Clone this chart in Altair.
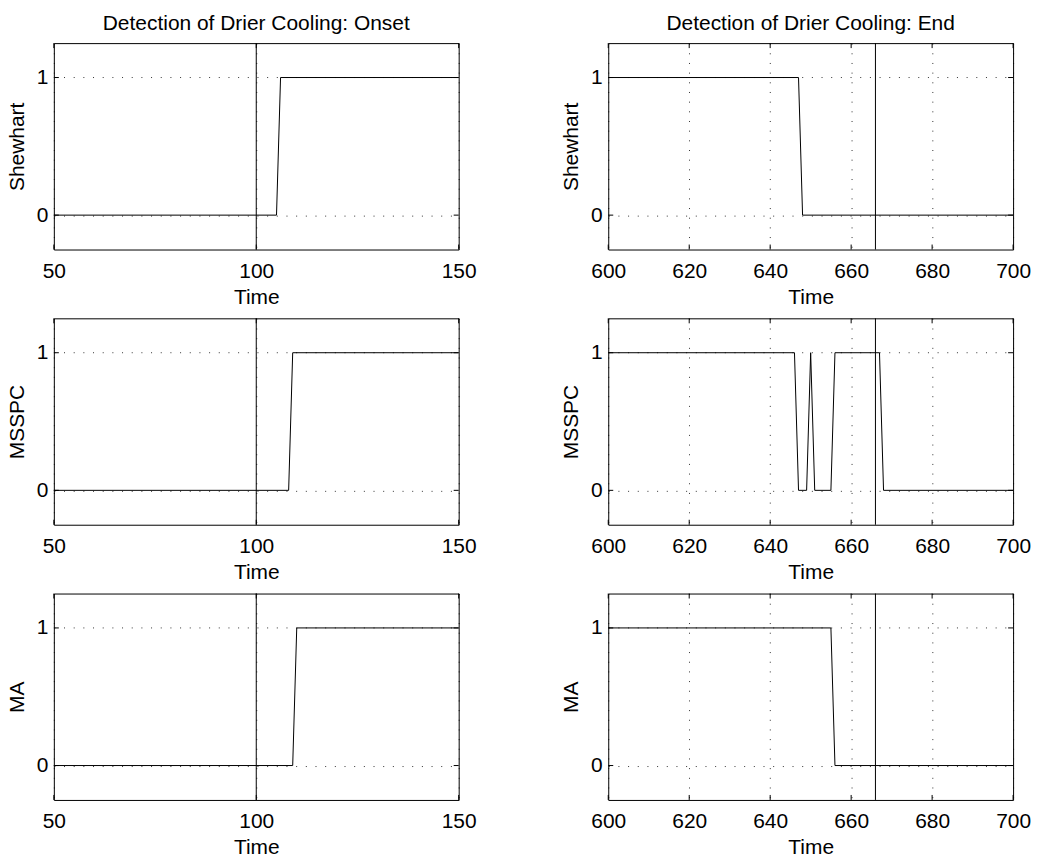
import altair as alt
import pandas as pd

# Axis ticks
onset_ticks = [50, 100, 150]
end_ticks = [600, 620, 640, 660, 680, 700]
level_ticks = [0, 1]

# Reference instants (vertical markers)
onset_marker = 100
end_marker = 666

# Detector outputs (0 = no alarm, 1 = alarm), breakpoints of each signal
shewhart_onset_t = [50, 105, 106, 150]
shewhart_onset_v = [0, 0, 1, 1]
msspc_onset_t = [50, 108, 109, 150]
msspc_onset_v = [0, 0, 1, 1]
ma_onset_t = [50, 109, 110, 150]
ma_onset_v = [0, 0, 1, 1]

shewhart_end_t = [600, 647, 648, 700]
shewhart_end_v = [1, 1, 0, 0]
msspc_end_t = [600, 646, 647, 649, 650, 651, 655, 656, 667, 668, 700]
msspc_end_v = [1, 1, 0, 0, 1, 0, 0, 1, 1, 0, 0]
ma_end_t = [600, 655, 656, 700]
ma_end_v = [1, 1, 0, 0]

FONT = "Liberation Sans"
W, H = 406, 207
TICK = 5


def panel(t, v, domain, ticks, marker, ylabel, title=None):
    data = pd.DataFrame({"t": t, "v": v})
    x = alt.X(
        "t:Q",
        scale=alt.Scale(domain=domain, nice=False, zero=False),
        axis=alt.Axis(values=ticks, title="Time", labelFlush=False, format="d"),
    )
    y = alt.Y(
        "v:Q",
        scale=alt.Scale(domain=[-0.25, 1.25], nice=False, zero=False),
        axis=alt.Axis(values=level_ticks, title=ylabel, format="d"),
    )
    line = alt.Chart(data).mark_line(color="black", strokeWidth=1).encode(x=x, y=y)
    vline = (
        alt.Chart(pd.DataFrame({"t": [marker]}))
        .mark_rule(color="black", strokeWidth=1)
        .encode(x=x)
    )
    xt = pd.DataFrame({"t": ticks})
    yt = pd.DataFrame({"v": level_ticks})
    tick_style = dict(color="black", strokeWidth=1)
    bottom = alt.Chart(xt).mark_rule(**tick_style).encode(
        x=x, y=alt.value(H), y2=alt.value(H - TICK)
    )
    top = alt.Chart(xt).mark_rule(**tick_style).encode(
        x=x, y=alt.value(0), y2=alt.value(TICK)
    )
    left = alt.Chart(yt).mark_rule(**tick_style).encode(
        y=y, x=alt.value(0), x2=alt.value(TICK)
    )
    right = alt.Chart(yt).mark_rule(**tick_style).encode(
        y=y, x=alt.value(W - TICK), x2=alt.value(W)
    )
    chart = alt.layer(line, vline, bottom, top, left, right).properties(width=W, height=H)
    if title:
        chart = chart.properties(title=alt.TitleParams(title))
    return chart


panels = [
    panel(shewhart_onset_t, shewhart_onset_v, [50, 150], onset_ticks, onset_marker,
          "Shewhart", "Detection of Drier Cooling: Onset"),
    panel(shewhart_end_t, shewhart_end_v, [600, 700], end_ticks, end_marker,
          "Shewhart", "Detection of Drier Cooling: End"),
    panel(msspc_onset_t, msspc_onset_v, [50, 150], onset_ticks, onset_marker, "MSSPC"),
    panel(msspc_end_t, msspc_end_v, [600, 700], end_ticks, end_marker, "MSSPC"),
    panel(ma_onset_t, ma_onset_v, [50, 150], onset_ticks, onset_marker, "MA"),
    panel(ma_end_t, ma_end_v, [600, 700], end_ticks, end_marker, "MA"),
]

chart = (
    alt.concat(*panels, columns=2, spacing={"row": 69, "column": 150})
    .properties(bounds="flush", padding={"left": 5, "top": 11, "right": 10, "bottom": 5},
                background="white")
    .resolve_scale(x="independent", y="independent")
    .configure_view(stroke="black", strokeWidth=1)
    .configure_axis(
        labelFont=FONT,
        labelFontSize=21,
        labelColor="black",
        titleFont=FONT,
        titleFontSize=21,
        titleFontWeight="normal",
        titleColor="black",
        domain=False,
        ticks=False,
        tickSize=0,
        grid=True,
        gridColor="black",
        gridWidth=1,
        gridDash=[1, 8.7],
        gridOpacity=0.8,
    )
    .configure_axisX(labelPadding=11, titlePadding=5)
    .configure_axisY(labelPadding=6, titlePadding=9)
    .configure_title(
        font=FONT,
        fontSize=21,
        fontWeight="normal",
        color="black",
        anchor="middle",
        frame="group",
        baseline="alphabetic",
        offset=9,
    )
)

chart.save("out.html", embed_options={"renderer": "svg", "actions": False})
